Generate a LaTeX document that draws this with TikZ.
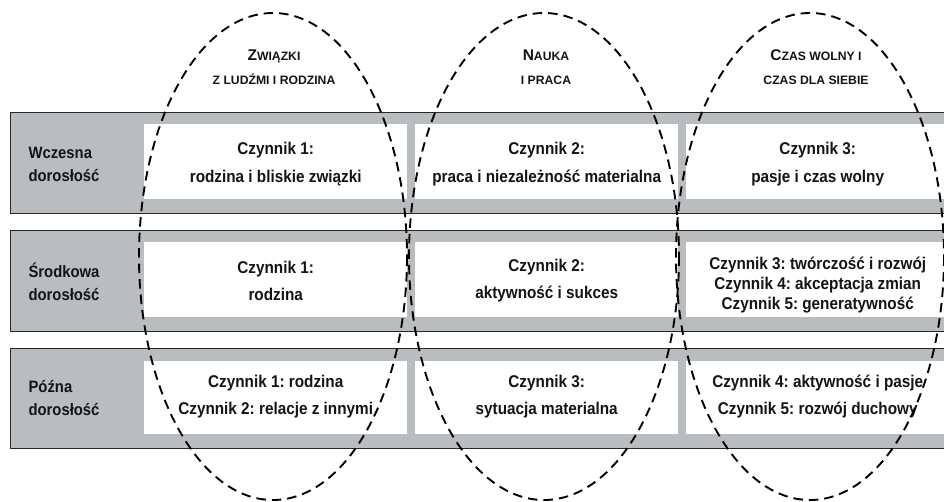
\documentclass[tikz,border=0pt]{standalone}
\usepackage{fontspec}
\setmainfont{Liberation Sans}
\newfontfamily\cf{Liberation Sans}[FakeStretch=0.9]
\definecolor{bandgrey}{RGB}{186,189,191}
\definecolor{bandline}{RGB}{40,40,40}
\definecolor{ink}{RGB}{20,20,20}
\frenchspacing
\begin{document}
\begin{tikzpicture}[x=1pt,y=-1pt,
  band/.style={draw=bandline,line width=1.2pt,fill=bandgrey,minimum width=940pt,inner sep=0pt,anchor=north west},
  cell/.style={fill=white,minimum width=263pt,inner sep=0pt,anchor=north west},
  celltext/.style={align=center,text=ink,font=\cf\bfseries\fontsize{17}{28}\selectfont},
  rowlabel/.style={align=left,anchor=west,text=ink,font=\cf\bfseries\fontsize{16.5}{23}\selectfont},
  head/.style={align=center,text=ink,font=\bfseries\fontsize{12.2}{24}\selectfont},
  ell/.style={line width=1.9pt,dash pattern=on 9.5pt off 6pt}]
\useasboundingbox (0,0) rectangle (944,501);
\clip (0,0) rectangle (944,501);
% bands
\node[band,minimum height=101pt] (b1) at (10,112) {};
\node[band,minimum height=101pt] (b2) at (10,230) {};
\node[band,minimum height=100pt] (b3) at (10,348) {};
% cells row 1
\node[cell,minimum height=75pt] (c11) at (144,124) {};
\node[cell,minimum height=75pt] (c12) at (415,124) {};
\node[cell,minimum height=75pt] (c13) at (686,124) {};
% row 2
\node[cell,minimum height=75pt] (c21) at (144,242) {};
\node[cell,minimum height=75pt] (c22) at (415,242) {};
\node[cell,minimum height=75pt] (c23) at (686,242) {};
% row 3
\node[cell,minimum height=73pt] (c31) at (144,361) {};
\node[cell,minimum height=73pt] (c32) at (415,361) {};
\node[cell,minimum height=73pt] (c33) at (686,361) {};
% row labels
\node[rowlabel] (l1) at (25,164) {Wczesna\\dorosłość};
\node[rowlabel] (l2) at (25,282) {Środkowa\\dorosłość};
\node[rowlabel] (l3) at (25,398) {Późna\\dorosłość};
% cell texts
\node[celltext] (t11) at ([yshift=-2pt]c11.center) {Czynnik 1:\\rodzina i bliskie związki};
\node[celltext] (t12) at ([yshift=-2pt]c12.center) {Czynnik 2:\\praca i niezależność materialna};
\node[celltext] (t13) at ([yshift=-2pt]c13.center) {Czynnik 3:\\pasje i czas wolny};
\node[celltext,font=\cf\bfseries\fontsize{17}{27}\selectfont] (t21) at ([yshift=-1pt]c21.center) {Czynnik 1:\\rodzina};
\node[celltext,font=\cf\bfseries\fontsize{17}{27}\selectfont] (t22) at ([yshift=-1pt]c22.center) {Czynnik 2:\\aktywność i sukces};
\begin{scope}
\clip (686,242) rectangle (949,317);
\node[celltext,font=\cf\bfseries\fontsize{17}{20}\selectfont] (t23) at ([yshift=-5pt]c23.center) {Czynnik 3: twórczość i rozwój\\Czynnik 4: akceptacja zmian\\Czynnik 5: generatywność};
\end{scope}
\node[celltext,font=\cf\bfseries\fontsize{17}{27}\selectfont] (t31) at ([yshift=1pt]c31.center) {Czynnik 1: rodzina\\Czynnik 2: relacje z innymi};
\node[celltext,font=\cf\bfseries\fontsize{17}{27}\selectfont] (t32) at ([yshift=1pt]c32.center) {Czynnik 3:\\sytuacja materialna};
\node[celltext,font=\cf\bfseries\fontsize{17}{27}\selectfont] (t33) at ([yshift=1pt]c33.center) {Czynnik 4: aktywność i pasje\\Czynnik 5: rozwój duchowy};
% headings
\node[head] (h1) at (274,67) {{\fontsize{15.5}{24}\selectfont Z}WIĄZKI\\Z LUDŹMI I RODZINA};
\node[head] (h2) at (546,67) {{\fontsize{15.5}{24}\selectfont N}AUKA\\I PRACA};
\node[head] (h3) at (816,67) {{\fontsize{15.5}{24}\selectfont C}ZAS WOLNY I\\CZAS DLA SIEBIE};
% ellipses
\draw[ell] (273,256.5) ellipse [x radius=134, y radius=243.5];
\draw[ell] (544,256.5) ellipse [x radius=135, y radius=243.5];
\draw[ell] (810,256.5) ellipse [x radius=134, y radius=243.5];
\end{tikzpicture}
\end{document}
